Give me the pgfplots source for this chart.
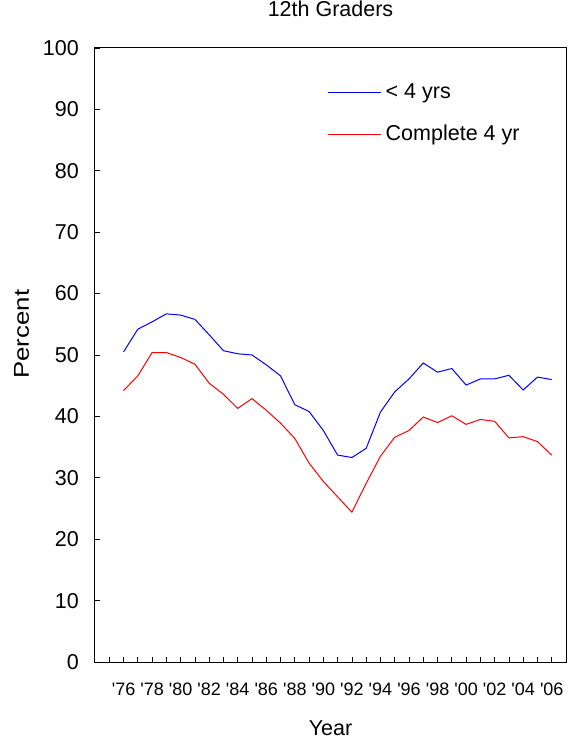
\documentclass[border=0pt]{standalone}
\usepackage{fontspec}
\setmainfont{Liberation Sans}
\usepackage{pgfplots}
\pgfplotsset{compat=1.18}
\begin{document}
\begin{tikzpicture}
\path[use as bounding box] (-95bp,-77bp) rectangle (483bp,662bp);
\begin{axis}[
  scale only axis, width=471bp, height=614bp,
  xmin=1974, xmax=2007, ymin=0, ymax=100,
  ytick={0,10,...,100},
  xtick={1976,1978,...,2006},
  xticklabels={\textquotesingle76,\textquotesingle78,\textquotesingle80,\textquotesingle82,\textquotesingle84,\textquotesingle86,\textquotesingle88,\textquotesingle90,\textquotesingle92,\textquotesingle94,\textquotesingle96,\textquotesingle98,\textquotesingle00,\textquotesingle02,\textquotesingle04,\textquotesingle06},
  minor xtick={1975,1977,...,2005},
  tick align=inside, major tick length=5bp, minor tick length=5bp,
  xtick pos=bottom, ytick pos=left,
  tick style={black, line width=0.8bp},
  axis line style={line width=1bp},
  font=\fontsize{21.5bp}{26bp}\selectfont,
  /pgf/number format/assume math mode=true,
  yticklabel style={inner sep=0pt, anchor=east, xshift=-16bp},
  xticklabel style={inner sep=0pt, anchor=base, yshift=-33.5bp, font=\fontsize{18bp}{22bp}\selectfont},
  title={12th Graders},
  title style={at={(axis description cs:0.5,1)}, anchor=base, yshift=26bp, inner sep=0pt},
  xlabel={Year},
  xlabel style={at={(axis description cs:0.5,0)}, anchor=base, yshift=-73bp, inner sep=0pt},
  ylabel={Percent},
  ylabel style={at={(axis description cs:-0.1405,0.534)}, anchor=base, rotate=0, inner sep=0pt, xscale=1.2},
  legend cell align=left,
  legend style={draw=none, fill=none, inner sep=0pt, at={(axis description cs:0.4926,0.9447)}, anchor=north west,
    nodes={inner sep=0pt, text height=16bp, text depth=5bp}, row sep=21bp,
    /tikz/every odd column/.append style={column sep=4.5bp}},
  legend image code/.code={\draw[#1] (0bp,0bp) -- (53bp,0bp);},
]
\addplot[color={rgb,255:red,0;green,0;blue,255}, line width=1bp] coordinates {
(1976,50.5) (1977,54.2) (1978,55.4) (1979,56.7) (1980,56.5) (1981,55.8) (1982,53.3) (1983,50.7) (1984,50.2) (1985,50.0)
(1986,48.4) (1987,46.6) (1988,41.9) (1989,40.8) (1990,37.7) (1991,33.7) (1992,33.3) (1993,34.8) (1994,40.7) (1995,44.0)
(1996,46.1) (1997,48.7) (1998,47.2) (1999,47.8) (2000,45.1) (2001,46.1) (2002,46.1) (2003,46.7) (2004,44.3) (2005,46.4) (2006,46.0)
};
\addlegendentry{< 4 yrs}
\addplot[color={rgb,255:red,255;green,0;blue,0}, line width=1bp] coordinates {
(1976,44.2) (1977,46.6) (1978,50.4) (1979,50.4) (1980,49.6) (1981,48.5) (1982,45.4) (1983,43.6) (1984,41.3) (1985,42.9)
(1986,41.0) (1987,38.9) (1988,36.4) (1989,32.4) (1990,29.4) (1991,26.9) (1992,24.4) (1993,29.1) (1994,33.5) (1995,36.6)
(1996,37.7) (1997,39.9) (1998,39.0) (1999,40.1) (2000,38.7) (2001,39.5) (2002,39.2) (2003,36.5) (2004,36.7) (2005,35.9) (2006,33.7)
};
\addlegendentry{Complete 4 yr}
\end{axis}
\end{tikzpicture}
\end{document}
